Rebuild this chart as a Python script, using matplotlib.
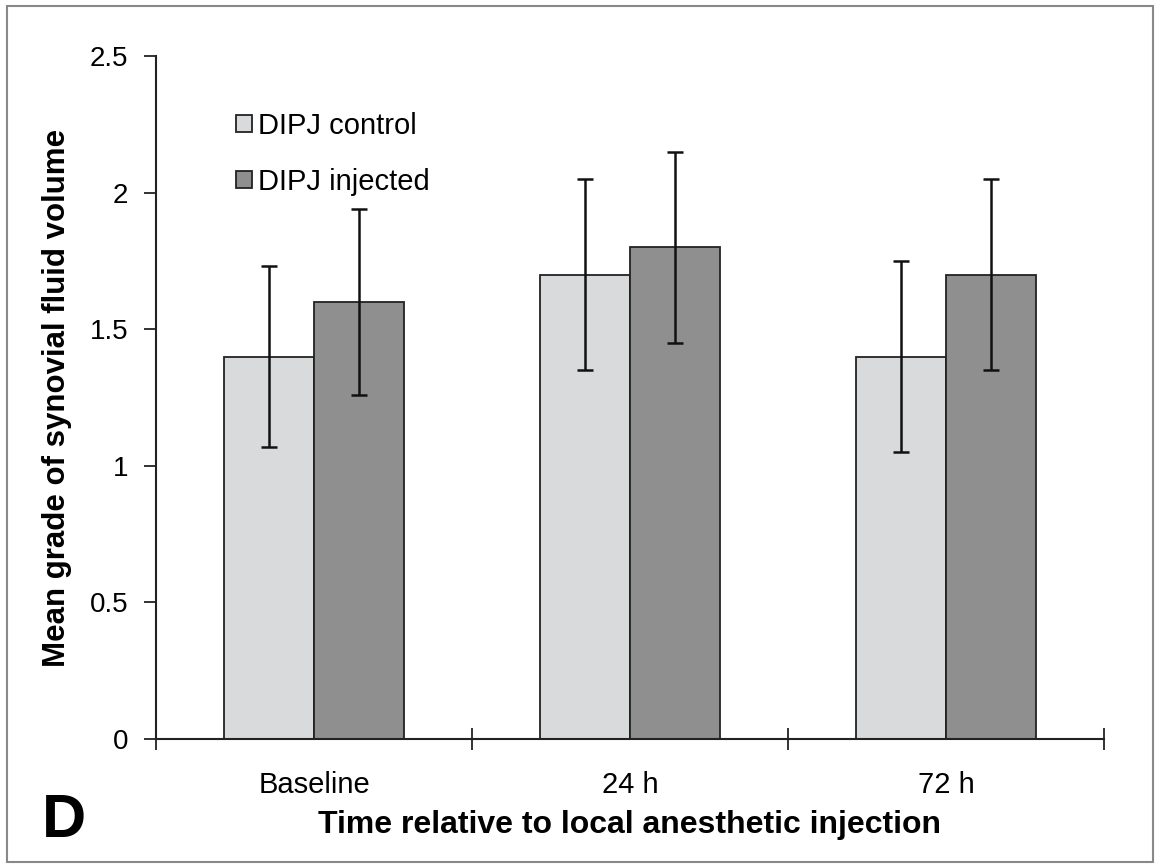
import matplotlib.pyplot as plt
from matplotlib.patches import Rectangle

plt.rcParams['font.family'] = ['Liberation Sans', 'DejaVu Sans']

categories = ["Baseline", "24 h", "72 h"]
control = [1.4, 1.7, 1.4]
control_err = [0.33, 0.35, 0.35]
injected = [1.6, 1.8, 1.7]
injected_err = [0.34, 0.35, 0.35]
series_names = ["DIPJ control", "DIPJ injected"]

fig = plt.figure(figsize=(11.6, 8.67), dpi=100)
ax = fig.add_axes([0.1345, 0.1476, 0.8172, 0.7878])

w = 0.285
xs = list(range(len(categories)))
err_kw = dict(ecolor='#111111', elinewidth=1.8, capsize=6, capthick=1.8)
ax.bar([x - w / 2 for x in xs], control, w, yerr=control_err, color='#d9dadb',
       edgecolor='#222222', linewidth=1.3, label=series_names[0], error_kw=err_kw)
ax.bar([x + w / 2 for x in xs], injected, w, yerr=injected_err, color='#8f8f8f',
       edgecolor='#222222', linewidth=1.3, label=series_names[1], error_kw=err_kw)

ax.set_xlim(-0.5, 2.5)
ax.set_ylim(0, 2.5)
ax.set_yticks([0, 0.5, 1, 1.5, 2, 2.5])
ax.set_yticklabels(['0', '0.5', '1', '1.5', '2', '2.5'])
ax.set_xticks([-0.5, 0.5, 1.5, 2.5])
ax.set_xticklabels([])
ax.set_xticks(xs, minor=True)
ax.set_xticklabels(categories, minor=True)
ax.tick_params(axis='x', which='major', direction='inout', length=16, width=1.3, color='#222222')
ax.tick_params(axis='x', which='minor', length=0, pad=23, labelsize=21)
ax.tick_params(axis='y', direction='out', length=9, width=1.3, color='#222222', labelsize=20, pad=11)

for s in ['top', 'right']:
    ax.spines[s].set_visible(False)
for s in ['left', 'bottom']:
    ax.spines[s].set_linewidth(1.5)
    ax.spines[s].set_color('#222222')

ax.set_ylabel("Mean grade of synovial fluid volume", fontsize=22.5, fontweight='bold', labelpad=13)
ax.set_xlabel("Time relative to local anesthetic injection", fontsize=23, fontweight='bold', labelpad=8)

ax.legend(loc='upper left', bbox_to_anchor=(0.057, 0.957), frameon=False, fontsize=21,
          handlelength=0.55, handleheight=0.55, handletextpad=0.2, labelspacing=0.96)

fig.text(0.036, 0.0346, "D", fontsize=44, fontweight='bold', va='baseline', ha='left')
fig.add_artist(Rectangle((0.006, 0.006), 0.988, 0.987, transform=fig.transFigure,
                         fill=False, edgecolor='#888888', linewidth=1.5))

fig.savefig("out.png", dpi=100)
